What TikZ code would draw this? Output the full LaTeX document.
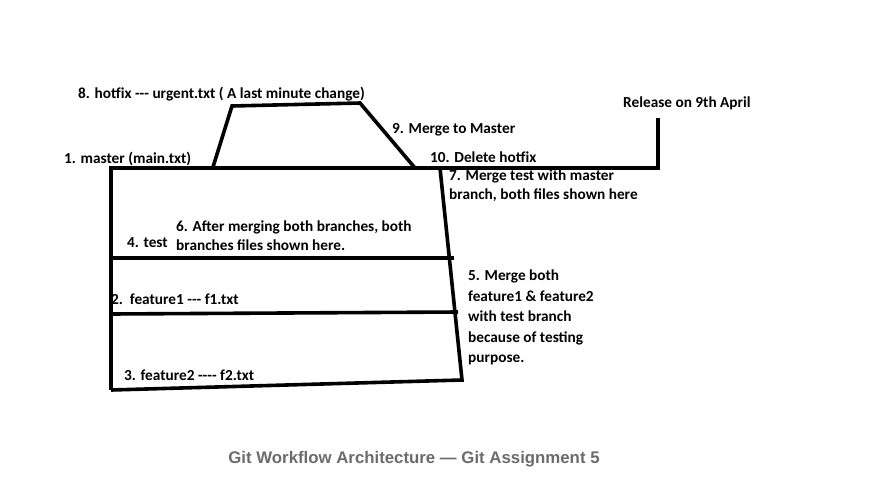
\documentclass[tikz,border=0pt]{standalone}
\usepackage{fontspec}
\setmainfont{Carlito}[Ligatures=TeXOff]
\newfontfamily\capfont{Liberation Sans}
\definecolor{capgray}{HTML}{6B6B6B}
\tikzset{
  lbl/.style={anchor=base west, inner sep=0pt, font=\fontsize{15.3}{20}\selectfont\bfseries},
  pen/.style={line width=3.6pt, black, line join=miter},
  captxt/.style={anchor=base, inner sep=0pt, font=\fontsize{16.8}{20}\selectfont\capfont\bfseries, text=capgray}
}
\begin{document}
\begin{tikzpicture}[x=1pt,y=-1pt]
\useasboundingbox (0,0) rectangle (884,488);
% hand-drawn lines
\coordinate (mL) at (111,168);
\coordinate (mR) at (658,168);
\coordinate (rel) at (658,118);
\coordinate (hL) at (213,167);
\coordinate (hTL) at (232,106);
\coordinate (hTR) at (360,103);
\coordinate (hR) at (415,168);
\coordinate (sT) at (440,168);
\coordinate (sB) at (462,380);
\coordinate (bL) at (111,390);
\coordinate (tL) at (111,258);
\coordinate (tR) at (454,258);
\coordinate (fL) at (111,314);
\coordinate (fR) at (458,312);
\draw[pen] (bL) -- (mL) -- (mR) -- (rel);
\draw[pen] (hL) -- (hTL) -- (hTR) -- (hR);
\draw[pen] (sT) -- (sB) -- (bL);
\draw[pen] (tL) -- (tR);
\draw[pen] (fL) -- (fR);
% labels
\node[lbl] (n8) at (78,98) {8. hotfix --- urgent.txt ( A last minute change)};
\node[lbl] (n1) at (64,163) {1. master (main.txt)};
\node[lbl] (n9) at (392,133) {9. Merge to Master};
\node[lbl] (n10) at (430,162) {10. Delete hotfix};
\node[lbl] (rl) at (623,107) {Release on 9th April};
\node[lbl] (n7a) at (449,180) {7. Merge test with master};
\node[lbl] (n7b) at (449,199) {branch, both files shown here};
\node[lbl] (n6a) at (176,231) {6. After merging both branches, both};
\node[lbl] (n6b) at (176,250) {branches files shown here.};
\node[lbl] (n4) at (127,247) {4. test};
\node[lbl] (n2) at (111,304) {2.\ \ feature1 --- f1.txt};
\node[lbl] (n3) at (124,380) {3. feature2 ---- f2.txt};
\node[lbl] (n5a) at (468,280) {5. Merge both};
\node[lbl] (n5b) at (468,301) {feature1 \& feature2};
\node[lbl] (n5c) at (468,321) {with test branch};
\node[lbl] (n5d) at (468,342) {because of testing};
\node[lbl] (n5e) at (468,362) {purpose.};
\node[captxt] (cap) at (414,463) {Git Workflow Architecture — Git Assignment 5};
\end{tikzpicture}
\end{document}
